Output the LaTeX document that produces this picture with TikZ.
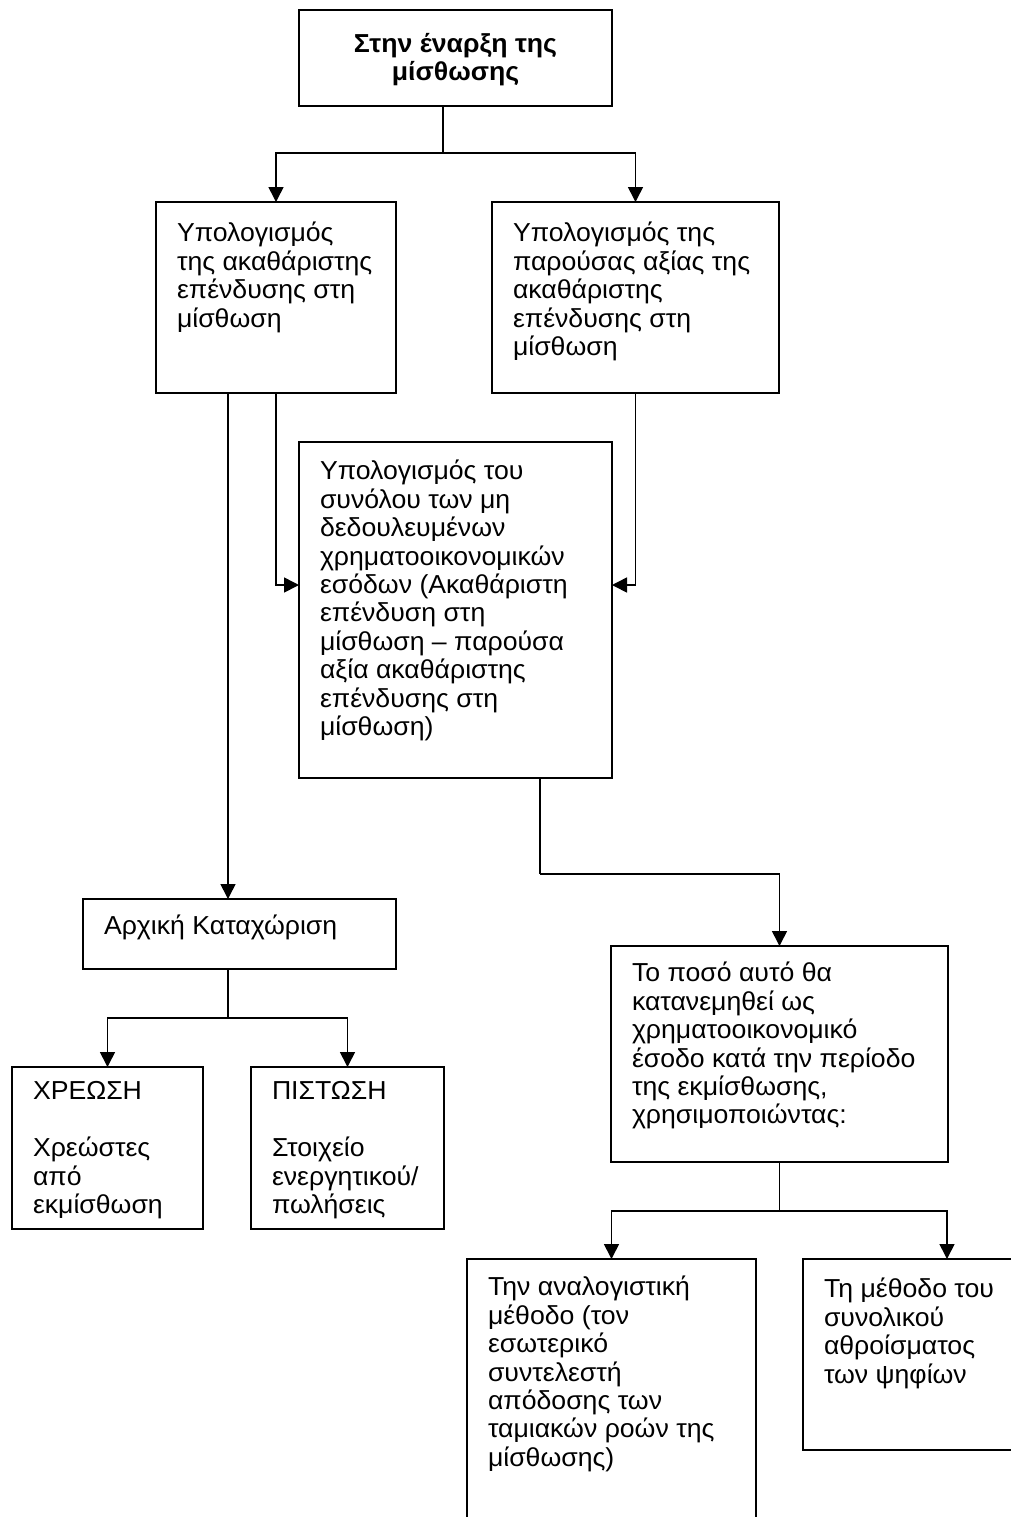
\documentclass[tikz,border=0pt]{standalone}
\usepackage{fontspec}
\setmainfont[FakeStretch=1.025]{Liberation Sans}
\usetikzlibrary{arrows.meta}

\newlength{\pxunit}
\setlength{\pxunit}{0.5pt}
% box body: [top skip]{width}{height}{text}, sizes in pixels
\newcommand{\flowtext}[4][9.5pt]{\parbox[c][#3\pxunit][t]{\dimexpr#2\pxunit-21pt\relax}{\vspace*{#1}\raggedright\strut #4}}

\begin{document}
\begin{tikzpicture}[x=0.5pt, y=-0.5pt,
flownode/.style={rectangle, draw=black, line width=1pt, fill=white, anchor=north west, inner xsep=10.5pt, inner ysep=0pt, outer sep=0pt, font=\fontsize{13}{14.2}\selectfont},
arrowline/.style={line width=0.8pt, -{Triangle[length=7.5pt, width=7.5pt]}},
plainline/.style={line width=0.8pt},
]
\path[use as bounding box, clip] (0,0) rectangle (1011,1517);

%Nodes
\node[flownode](T) at (299,10){\flowtext[11.3pt]{313}{96}{\centering\bfseries Στην έναρξη της\\μίσθωσης}};

\node[flownode](A) at (156,202){\flowtext[10pt]{240}{191}{Υπολογισμός\\της ακαθάριστης\\επένδυσης στη\\μίσθωση}};

\node[flownode](B) at (492,202){\flowtext[10pt]{287}{191}{Υπολογισμός της\\παρούσας αξίας της\\ακαθάριστης\\επένδυσης στη\\μίσθωση}};

\node[flownode](C) at (299,442){\flowtext[9pt]{313}{336}{Υπολογισμός του\\συνόλου των μη\\δεδουλευμένων\\χρηματοοικονομικών\\εσόδων (Ακαθάριστη\\επένδυση στη\\μίσθωση – παρούσα\\αξία ακαθάριστης\\επένδυσης στη\\μίσθωση)}};

\node[flownode](D) at (83,899){\flowtext[8pt]{313}{70}{Αρχική Καταχώριση}};

\node[flownode](E) at (12,1067){\flowtext[6.5pt]{191}{162}{ΧΡΕΩΣΗ\\[14.2pt]Χρεώστες\\από\\εκμίσθωση}};

\node[flownode](F) at (251,1067){\flowtext[6.5pt]{193}{162}{ΠΙΣΤΩΣΗ\\[14.2pt]Στοιχείο\\ενεργητικού/\\πωλήσεις}};

\node[flownode](G) at (611,946){\flowtext[8pt]{337}{216}{Το ποσό αυτό θα\\κατανεμηθεί ως\\χρηματοοικονομικό\\έσοδο κατά την περίοδο\\της εκμίσθωσης,\\χρησιμοποιώντας:}};

\node[flownode](H) at (467,1259){\flowtext[8.5pt]{289}{300}{Την αναλογιστική\\μέθοδο (τον\\εσωτερικό\\συντελεστή\\απόδοσης των\\ταμιακών ροών της\\μίσθωσης)}};

\node[flownode](I) at (803,1259){\flowtext[9.5pt]{288}{191}{Τη μέθοδο του\\συνολικού\\αθροίσματος\\των ψηφίων}};

% bends of the connectors
\coordinate (jT) at (443,153);
\coordinate (cin) at (0,585);
\coordinate (cout) at (540,874);
\coordinate (jD) at (228,1018);
\coordinate (jG) at (779.5,1211);

%Lines
\draw[plainline] (T.south -| jT) -- (jT);
\draw[arrowline] (jT) -| (A.north);
\draw[arrowline] (jT) -| (B.north);

\draw[arrowline] (A.south -| jD) -- (D.north -| jD);
\draw[arrowline] (A.south) |- (C.west |- cin);
\draw[arrowline] (B.south) |- (C.east |- cin);

\draw[plainline] (C.south -| cout) -- (cout);
\draw[arrowline] (cout) -| (G.north);

\draw[plainline] (D.south -| jD) -- (jD);
\draw[arrowline] (jD) -| (E.north);
\draw[arrowline] (jD) -| (F.north);

\draw[plainline] (G.south) -- (jG);
\draw[arrowline] (jG) -| (H.north);
\draw[arrowline] (jG) -| (I.north);

\end{tikzpicture}
\end{document}
